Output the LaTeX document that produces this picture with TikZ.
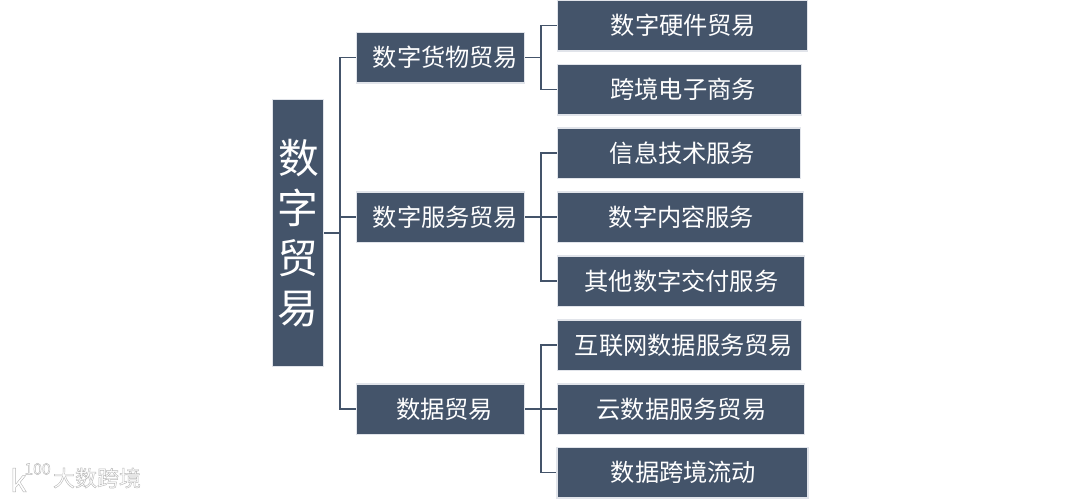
\documentclass[tikz,border=0pt]{standalone}
\usepackage{fontspec}
\setmainfont{Noto Sans CJK SC}
\definecolor{boxblue}{HTML}{44546A}
\definecolor{boxedge}{HTML}{E1E4EA}
% white letters with a grey rim
\newcommand{\rimtext}[1]{\special{pdf:code 2 Tr 0.25 w 0.72 G}#1\special{pdf:code 0 Tr 0 w 0 G}}
\tikzset{
  basebox/.style={draw=boxedge,fill=boxblue,text=white,line width=0.03cm,inner sep=0pt},
  rootbox/.style={basebox,minimum width=1.03cm,minimum height=5.35cm,align=center,
    font=\fontsize{23.2pt}{28.5pt}\selectfont},
  midbox/.style={basebox,minimum width=3.36cm,minimum height=1.01cm,font=\fontsize{13.8pt}{16pt}\selectfont},
  leafbox/.style={basebox,minimum height=1.01cm,font=\fontsize{13.8pt}{16pt}\selectfont},
  link/.style={draw=boxblue,line width=0.036cm},
  mark text/.style={text=white,inner sep=0pt},
}
\begin{document}
\begin{tikzpicture}[x=0.02cm,y=-0.02cm]
\useasboundingbox (0,0) rectangle (1080,498);

\node[rootbox] (trade) at (298,233) {\hspace*{0.02cm}数\\字\\贸\\易};

\node[midbox] (goods) at (440.5,57.5) {\hspace*{0.2cm}数字货物贸易};
\node[midbox] (service) at (440.5,217) {\hspace*{0.2cm}数字服务贸易};
\node[midbox] (data) at (440.5,409) {\hspace*{0.16cm}数据贸易};

\node[leafbox,minimum width=5.01cm] (hardware) at (682.5,25.5) {\hspace*{0.04cm}数字硬件贸易};
\node[leafbox,minimum width=4.89cm] (ecommerce) at (679.5,89.5) {\hspace*{0.14cm}跨境电子商务};
\node[leafbox,minimum width=4.87cm] (infotech) at (679,153) {\hspace*{0.14cm}信息技术服务};
\node[leafbox,minimum width=4.93cm] (content) at (680.5,217) {\hspace*{0.04cm}数字内容服务};
\node[leafbox,minimum width=4.95cm] (delivery) at (681,281) {\hspace*{0.02cm}其他数字交付服务};
\node[leafbox,minimum width=4.89cm] (internet) at (679.5,345) {\hspace*{0.18cm}互联网数据服务贸易};
\node[leafbox,minimum width=4.95cm] (cloud) at (681,409) {\hspace*{0.02cm}云数据服务贸易};
\node[leafbox,minimum width=5.03cm] (flow) at (682.5,472.5) {\hspace*{0.04cm}数据跨境流动};

\coordinate (trunk) at (340,233);
\draw[link] (trade.east) -- (trunk);
\draw[link] (trunk) |- (goods.west);
\draw[link] (trunk) |- (service.west);
\draw[link] (trunk) |- (data.west);

\coordinate (goodsbus) at (541,57.5);
\draw[link] (goods.east) -- (goodsbus);
\draw[link] (goodsbus) |- (hardware.west);
\draw[link] (goodsbus) |- (ecommerce.west);

\coordinate (servicebus) at (541,217);
\draw[link] (service.east) -- (content.west);
\draw[link] (servicebus) |- (infotech.west);
\draw[link] (servicebus) |- (delivery.west);

\coordinate (databus) at (541,409);
\draw[link] (data.east) -- (cloud.west);
\draw[link] (databus) |- (internet.west);
\draw[link] (databus) |- (flow.west);

\node[mark text,font=\fontsize{12.5pt}{14pt}\selectfont] (wordmark) at (97,478) {\rimtext{大数跨境}};
\node[mark text,font=\fontsize{17pt}{19pt}\selectfont,anchor=east] (logok) at (27,480) {\rimtext{k}};
\node[mark text,font=\fontsize{9pt}{11pt}\selectfont,anchor=west] (logonum) at (24,469) {\rimtext{100}};
\end{tikzpicture}
\end{document}
